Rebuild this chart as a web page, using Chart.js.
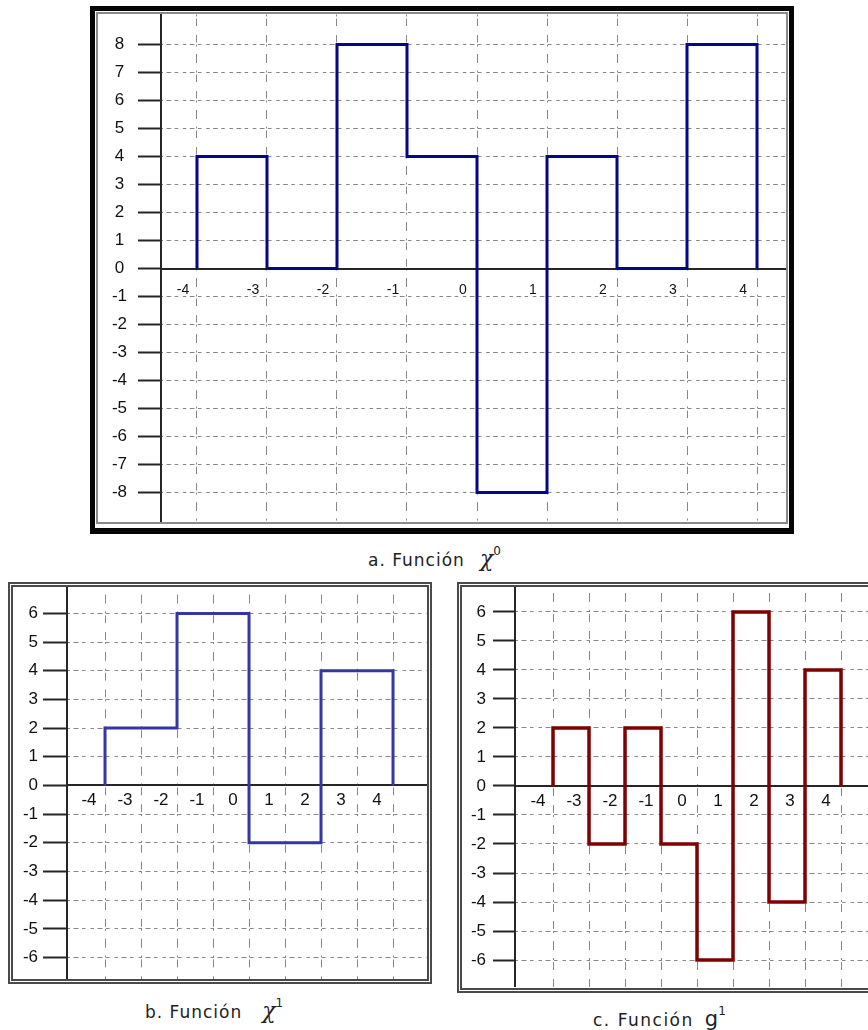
<!DOCTYPE html>
<html>
<head>
<meta charset="utf-8">
<title>Funciones escalonadas</title>
<script src="https://cdn.jsdelivr.net/npm/chart.js@4.4.1/dist/chart.umd.min.js"></script>
<style>
  html, body { margin: 0; padding: 0; background: #fff; }
  body { width: 868px; height: 1030px; overflow: hidden; position: relative; font-family: "DejaVu Sans", sans-serif; }
  .box { position: absolute; box-sizing: border-box; }
  .plot { position: absolute; }
  #frameA { left: 90px; top: 6px; width: 704px; height: 528px; border: 5px solid #050505; border-bottom-width: 6px; }
  #innerA { left: 96px; top: 12px; width: 692px; height: 512px; border: 2px solid #8a8a8a; }
  #frameB { left: 8px; top: 582px; width: 424px; height: 402px; border: 5px double #4a4a4a; }
  #frameC { left: 457px; top: 582px; width: 424px; height: 411px; border: 5px double #4a4a4a; }
  #plotA { left: 98px; top: 14px; }
  #plotB { left: 13px; top: 587px; }
  #plotC { left: 462px; top: 587px; }
  .cap { position: absolute; white-space: nowrap; font-size: 17px; letter-spacing: 1px; color: #222; line-height: 20px; }
  .cap .sym { font-family: "DejaVu Serif", serif; font-style: italic; font-size: 22px; letter-spacing: 0; }
  .cap .g { font-size: 21px; letter-spacing: 0; }
  .cap sup { font-size: 12px; letter-spacing: 0; position: relative; top: -4px; }
</style>
</head>
<body>
<div class="box" id="frameA"></div>
<div class="box" id="innerA"></div>
<div class="box" id="frameB"></div>
<div class="box" id="frameC"></div>
<canvas class="plot" id="plotA" width="688" height="508"></canvas>
<canvas class="plot" id="plotB" width="414" height="392"></canvas>
<canvas class="plot" id="plotC" width="413" height="400"></canvas>
<div class="cap" style="left:368px; top:545px;">a. Función<span style="display:inline-block;width:15px"></span><span class="sym">χ</span><sup>0</sup></div>
<div class="cap" style="left:145px; top:997px;">b. Función<span style="display:inline-block;width:20px"></span><span class="sym">χ</span><sup>1</sup></div>
<div class="cap" style="left:593px; top:1005px; letter-spacing:1.5px;">c. Función<span style="display:inline-block;width:11px"></span><span class="g">g</span><sup>1</sup></div>

<script>
// Tick values
const xTicks = [-4, -3, -2, -1, 0, 1, 2, 3, 4];
const yTicksA = [-8, -7, -6, -5, -4, -3, -2, -1, 0, 1, 2, 3, 4, 5, 6, 7, 8];
const yTicksBC = [-6, -5, -4, -3, -2, -1, 0, 1, 2, 3, 4, 5, 6];

// a. χ^0: value on each unit interval
const edgesA = [-4, -3, -2, -1, 0, 1, 2, 3, 4];
const levelsA = [4, 0, 8, 4, -8, 4, 0, 8];

// b. χ^1: value on each interval of length 2
const edgesB = [-4, -2, 0, 2, 4];
const levelsB = [2, 6, -2, 4];

// c. g^1: detail function on unit intervals
const edgesC = [-4, -3, -2, -1, 0, 1, 2, 3, 4];
const levelsC = [2, -2, 2, -2, -6, 6, -4, 4];

// Step function as points: starts and ends on the x axis
function stepPoints(edges, levels) {
  const pts = [{ x: edges[0], y: 0 }];
  levels.forEach((v, i) => pts.push({ x: edges[i], y: v }));
  pts.push({ x: edges[edges.length - 1], y: 0 });
  return pts;
}

const GRID = '#878787';
const AXIS = '#262626';
const LABEL = '#111';
const TICK_FONT = '"Liberation Sans", Arial, sans-serif';

function unitPx(scale) {
  return Math.abs(scale.getPixelForValue(1) - scale.getPixelForValue(0));
}
function mod(a, m) { return ((a % m) + m) % m; }

// vertical grid lines: short marks at each crossing and a dash in between
function vDash(ctx) {
  const p = unitPx(ctx.chart.scales.y);
  const g = (p - 13) / 2;
  return [2, g, 9, g, 2];
}
function vDashOffset(ctx) {
  const y = ctx.chart.scales.y;
  const p = unitPx(y);
  const s0 = y.getPixelForValue(0) - ctx.chart.chartArea.top;
  return p - mod(s0, p);
}
// horizontal grid lines: about 12px period, dash centred on each crossing
function hDash(ctx) {
  const u = unitPx(ctx.chart.scales.x);
  const q = u / Math.max(1, Math.round(u / 12));
  return [3.5, q - 7, 3.5];
}
function hDashOffset(ctx) {
  const x = ctx.chart.scales.x;
  const u = unitPx(x);
  const q = u / Math.max(1, Math.round(u / 12));
  const s0 = x.getPixelForValue(0) - ctx.chart.chartArea.left;
  return q - mod(s0, q);
}

function makeChart(id, cfg) {
  return new Chart(document.getElementById(id), {
    type: 'line',
    data: {
      datasets: [{
        data: stepPoints(cfg.edges, cfg.levels),
        stepped: 'before',
        borderColor: cfg.color,
        borderWidth: cfg.lineWidth,
        borderJoinStyle: 'miter',
        borderCapStyle: 'butt',
        pointRadius: 0,
        fill: false,
        tension: 0
      }]
    },
    options: {
      responsive: false,
      animation: false,
      events: [],
      layout: { padding: 0 },
      plugins: { legend: { display: false }, tooltip: { enabled: false }, title: { display: false } },
      scales: {
        x: {
          type: 'linear',
          position: { y: 0 },
          min: cfg.xMin, max: cfg.xMax,
          afterBuildTicks: s => { s.ticks = xTicks.map(v => ({ value: v })); },
          grid: { color: GRID, lineWidth: 1, drawTicks: false },
          border: { display: true, color: AXIS, width: 2, dash: vDash, dashOffset: vDashOffset },
          ticks: {
            autoSkip: false, maxRotation: 0, minRotation: 0,
            padding: cfg.xPad, labelOffset: cfg.xLabelOffset,
            color: LABEL, font: { family: TICK_FONT, size: cfg.xFont }
          }
        },
        y: {
          type: 'linear',
          position: 'left',
          min: cfg.yMin, max: cfg.yMax,
          afterBuildTicks: s => { s.ticks = cfg.yTicks.map(v => ({ value: v })); },
          afterFit: s => { s.width = cfg.yWidth; s.paddingTop = 0; s.paddingBottom = 0; },
          grid: {
            color: c => (c.tick && c.tick.value === 0 ? 'rgba(0,0,0,0)' : GRID),
            lineWidth: 1,
            drawTicks: true,
            tickLength: cfg.tickLen,
            tickWidth: 2,
            tickColor: AXIS
          },
          border: { display: true, color: AXIS, width: 2, dash: hDash, dashOffset: hDashOffset },
          ticks: {
            autoSkip: false,
            padding: cfg.yPad,
            crossAlign: cfg.yAlign,
            color: LABEL, font: { family: TICK_FONT, size: cfg.yFont }
          }
        }
      }
    }
  });
}

makeChart('plotA', {
  edges: edgesA, levels: levelsA, yTicks: yTicksA,
  color: '#06068a', lineWidth: 3,
  xMin: -4.514, xMax: 4.414, yMin: -9.05, yMax: 9.09,
  yWidth: 63, tickLen: 23, yPad: 11, yAlign: 'center', yFont: 17,
  xPad: 13, xLabelOffset: -14, xFont: 14
});

makeChart('plotB', {
  edges: edgesB, levels: levelsB, yTicks: yTicksBC,
  color: '#3636a2', lineWidth: 3,
  xMin: -5.056, xMax: 4.944, yMin: -6.75, yMax: 6.92,
  yWidth: 54, tickLen: 24, yPad: 5, yAlign: 'near', yFont: 17,
  xPad: 5, xLabelOffset: -16, xFont: 17
});

makeChart('plotC', {
  edges: edgesC, levels: levelsC, yTicks: yTicksBC,
  color: '#7e0000', lineWidth: 3.5,
  xMin: -5.056, xMax: 4.944, yMin: -6.93, yMax: 6.86,
  yWidth: 53, tickLen: 22, yPad: 7, yAlign: 'near', yFont: 17,
  xPad: 5, xLabelOffset: -15, xFont: 17
});
</script>
</body>
</html>
